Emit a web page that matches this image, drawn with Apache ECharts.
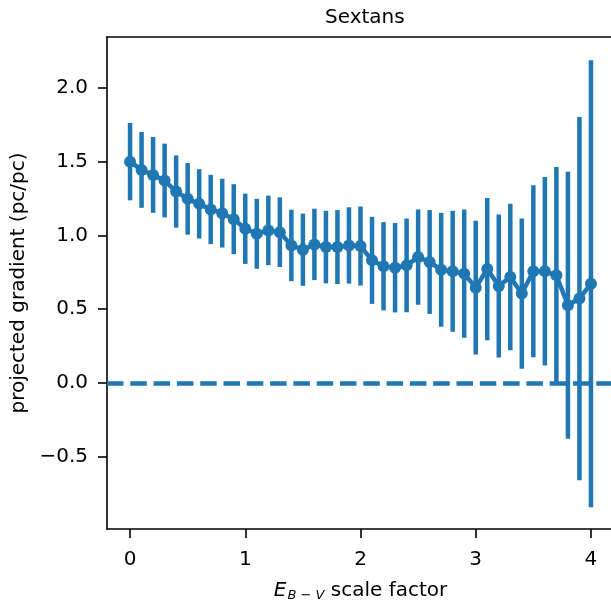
<!DOCTYPE html>
<html>
<head>
<meta charset="utf-8">
<script src="https://cdn.jsdelivr.net/npm/echarts@6/dist/echarts.min.js"></script>
<style>
  html, body { margin: 0; padding: 0; background: #fff; overflow: hidden; }
  #chart { width: 640px; height: 608px; }
</style>
</head>
<body>
<div id="chart"></div>
<script>
// E(B-V) scale factor
const scaleFactors = [0.0, 0.1, 0.2, 0.3, 0.4, 0.5, 0.6, 0.7, 0.8, 0.9,
  1.0, 1.1, 1.2, 1.3, 1.4, 1.5, 1.6, 1.7, 1.8, 1.9,
  2.0, 2.1, 2.2, 2.3, 2.4, 2.5, 2.6, 2.7, 2.8, 2.9,
  3.0, 3.1, 3.2, 3.3, 3.4, 3.5, 3.6, 3.7, 3.8, 3.9, 4.0];
// projected gradient (pc/pc)
const gradients = [1.50, 1.444, 1.41, 1.372, 1.297, 1.248, 1.214, 1.176, 1.151, 1.11,
  1.045, 1.011, 1.034, 1.022, 0.932, 0.903, 0.939, 0.921, 0.921, 0.932,
  0.928, 0.831, 0.791, 0.781, 0.797, 0.853, 0.82, 0.767, 0.757, 0.741,
  0.646, 0.772, 0.657, 0.718, 0.606, 0.757, 0.757, 0.73, 0.527, 0.572, 0.673];
// half-width of error bars
const gradientErrors = [0.262, 0.257, 0.257, 0.25, 0.245, 0.243, 0.235, 0.235, 0.233, 0.237,
  0.238, 0.237, 0.236, 0.236, 0.242, 0.245, 0.242, 0.246, 0.251, 0.259,
  0.268, 0.295, 0.299, 0.303, 0.318, 0.323, 0.352, 0.386, 0.41, 0.434,
  0.454, 0.482, 0.484, 0.496, 0.509, 0.583, 0.639, 0.734, 0.905, 1.231, 1.515];
const xTicks = [0, 1, 2, 3, 4];
const yTicks = [-0.5, 0.0, 0.5, 1.0, 1.5, 2.0];

const blue = '#1f77b4';
const font = 'DejaVu Sans';
const spine = { show: true, onZero: false, lineStyle: { color: '#000', width: 1.6 } };

// chart div is wider than the window so the axes run off the right edge like the original
const chart = echarts.init(document.getElementById('chart'));

const errData = scaleFactors.map((x, i) => [x, gradients[i] - gradientErrors[i], gradients[i] + gradientErrors[i]]);
const lineData = scaleFactors.map((x, i) => [x, gradients[i]]);

const option = {
  backgroundColor: '#fff',
  animation: false,
  title: {
    text: 'Sextans',
    left: 320,
    top: 3,
    textStyle: { fontFamily: font, fontSize: 20, fontWeight: 'normal', color: '#000' }
  },
  grid: {
    left: 107,
    top: 37,
    width: 507,
    height: 492,
    outerBoundsMode: 'none'
  },
  xAxis: [
    {
      type: 'value',
      min: -0.2,
      max: 4.2,
      name: '{e|E}{sub|B − V}{t| scale factor}',
      nameLocation: 'middle',
      nameGap: 50,
      nameTextStyle: {
        fontFamily: font,
        fontSize: 20,
        color: '#000',
        rich: {
          e: { fontFamily: font, fontSize: 20, fontStyle: 'italic', color: '#000' },
          sub: { fontFamily: font, fontSize: 13, fontStyle: 'italic', color: '#000', padding: [10, 0, 0, 1] },
          t: { fontFamily: font, fontSize: 20, color: '#000' }
        }
      },
      axisLine: spine,
      axisTick: {
        show: true,
        customValues: xTicks,
        length: 9,
        lineStyle: { color: '#000', width: 1.6 }
      },
      axisLabel: {
        customValues: xTicks,
        margin: 21,
        fontFamily: font,
        fontSize: 20,
        color: '#000',
        formatter: v => String(Math.round(v))
      },
      splitLine: { show: false }
    },
    {
      // top spine only
      type: 'value',
      position: 'top',
      min: -0.2,
      max: 4.2,
      axisLine: spine,
      axisTick: { show: false },
      axisLabel: { show: false },
      splitLine: { show: false }
    }
  ],
  yAxis: {
    type: 'value',
    min: -0.99,
    max: 2.345,
    name: 'projected gradient (pc/pc)',
    nameLocation: 'middle',
    nameGap: 74,
    nameTextStyle: { fontFamily: font, fontSize: 20, color: '#000' },
    axisLine: spine,
    axisTick: {
      show: true,
      customValues: yTicks,
      length: 9,
      lineStyle: { color: '#000', width: 1.6 }
    },
    axisLabel: {
      customValues: yTicks,
      margin: 19,
      fontFamily: font,
      fontSize: 20,
      color: '#000',
      formatter: v => v.toFixed(1).replace('-', '−')
    },
    splitLine: { show: false }
  },
  series: [
    {
      type: 'custom',
      name: 'errors',
      data: errData,
      z: 2,
      renderItem: function (params, api) {
        const p1 = api.coord([api.value(0), api.value(1)]);
        const p2 = api.coord([api.value(0), api.value(2)]);
        return {
          type: 'line',
          shape: { x1: p1[0], y1: p1[1], x2: p2[0], y2: p2[1] },
          style: { stroke: blue, lineWidth: 4.5 }
        };
      }
    },
    {
      type: 'line',
      name: 'gradient',
      data: lineData,
      z: 3,
      symbol: 'circle',
      symbolSize: 12,
      showSymbol: true,
      itemStyle: { color: blue },
      lineStyle: { color: blue, width: 4.5 },
      markLine: {
        silent: true,
        symbol: 'none',
        label: { show: false },
        lineStyle: { color: blue, width: 4.5, type: [16.5, 6.8] },
        data: [{ yAxis: 0 }]
      }
    }
  ]
};

chart.setOption(option);
</script>
</body>
</html>
